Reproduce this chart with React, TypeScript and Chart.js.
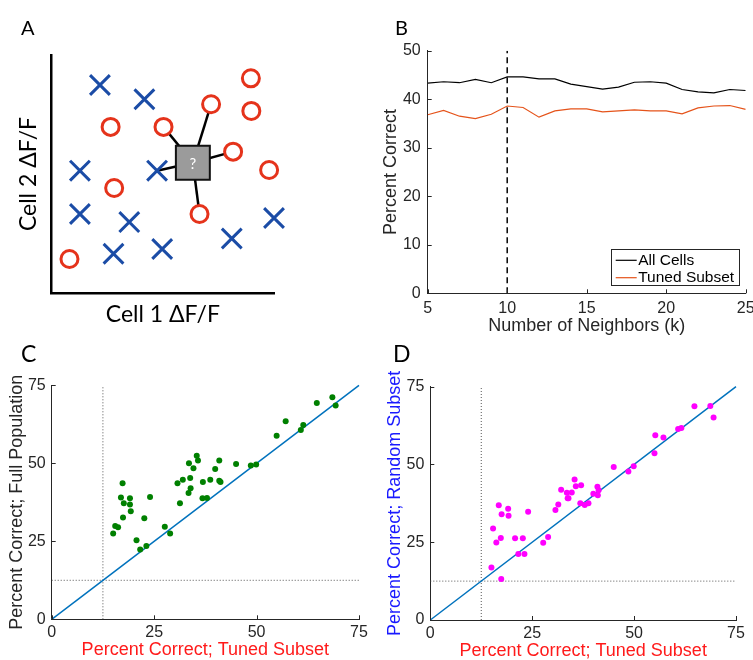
import React, { useEffect, useRef } from 'react';
import { Chart, registerables } from 'chart.js';

Chart.register(...registerables);

// ---------- Panel A (schematic) ----------
const aCrossX = [21.7, 41.7, 12.7, 47.4, 12.7, 34.9, 27.8, 49.7, 81.0, 100];
const aCrossY = [87.4, 81.4, 51.4, 51.4, 33.2, 29.8, 16.5, 18.5, 22.9, 31.5];
const aCircleX = [89.6, 71.7, 89.8, 26.5, 50.3, 81.6, 97.8, 28.1, 66.5, 8.0];
const aCircleY = [90.2, 79.3, 76.5, 69.8, 69.8, 59.4, 51.7, 44.1, 33.2, 14.3];
const aQueryX = 63.5;
const aQueryY = 54.7;
const aNeighborX = [47.4, 50.3, 71.7, 81.6, 66.5];
const aNeighborY = [51.4, 69.8, 79.3, 59.4, 33.2];

// ---------- Panel B ----------
const kValues = [5, 6, 7, 8, 9, 10, 11, 12, 13, 14, 15, 16, 17, 18, 19, 20, 21, 22, 23, 24, 25];
const allCells = [43.3, 43.6, 43.4, 44.1, 43.4, 44.6, 44.6, 44.2, 44.2, 43.1, 42.6, 42.1, 42.5, 43.5, 43.6, 43.3, 42.0, 41.5, 41.3, 42.0, 41.8];
const tunedSubset = [36.8, 37.7, 36.5, 36.0, 36.9, 38.6, 38.3, 36.3, 37.6, 38.0, 38.0, 37.4, 37.6, 37.8, 37.6, 37.6, 37.0, 38.2, 38.6, 38.7, 37.9];
const chosenK = 10;

// ---------- Panel C ----------
const cTuned = [15.0, 15.5, 16.2, 16.9, 17.3, 17.6, 17.4, 19.1, 19.1, 19.3, 20.7, 21.6, 22.6, 23.1, 24.0, 27.6, 28.9, 30.7, 31.3, 32.0, 33.4, 33.5, 33.8, 33.9, 34.6, 35.4, 35.7, 36.8, 36.9, 37.9, 38.7, 39.9, 40.9, 40.9, 41.2, 45.0, 48.6, 49.9, 54.9, 57.1, 60.8, 61.4, 64.7, 68.5, 69.3];
const cFull = [27.5, 29.9, 29.5, 39.0, 43.6, 37.2, 32.6, 38.8, 36.8, 34.6, 25.3, 22.4, 32.4, 23.5, 39.2, 29.7, 27.5, 43.6, 37.2, 44.7, 40.5, 50.0, 45.3, 42.0, 48.4, 52.4, 50.9, 38.8, 44.0, 38.9, 44.7, 48.2, 50.9, 44.4, 44.0, 49.8, 49.3, 49.6, 58.8, 63.5, 60.7, 62.3, 69.3, 71.2, 68.5];

// ---------- Panel D ----------
const dTuned = [15.0, 15.4, 16.2, 16.8, 17.3, 17.5, 17.4, 19.1, 19.2, 20.8, 21.6, 22.7, 23.1, 24.0, 27.7, 28.9, 30.7, 31.4, 32.1, 33.5, 33.7, 33.9, 34.7, 35.4, 35.7, 36.8, 37.0, 37.9, 38.8, 40.0, 41.0, 41.1, 41.3, 45.0, 48.6, 49.9, 55.2, 55.0, 57.2, 60.8, 61.6, 64.8, 68.7, 69.5];
const dRandom = [16.9, 29.4, 24.9, 36.9, 26.4, 34.0, 13.2, 35.8, 33.5, 26.3, 21.2, 26.3, 21.2, 34.8, 24.8, 26.7, 35.4, 37.1, 41.9, 40.9, 39.1, 39.1, 41.0, 45.2, 43.0, 37.5, 43.3, 37.0, 37.5, 40.6, 42.8, 40.1, 41.7, 49.2, 47.7, 49.4, 59.4, 53.6, 58.7, 61.4, 61.7, 68.7, 68.8, 65.1];

const chanceLevel = 12.5;
const compareMax = 75;

const FONT = "'Liberation Sans', Arial, Helvetica, sans-serif";
const GILL = "Lato, 'Open Sans', sans-serif";
const INK = '#262626';

const pts = (xs: number[], ys: number[]) => xs.map((x, i) => ({ x, y: ys[i] }));

const fixSize = (w?: number, h?: number) => (s: any) => {
  if (w !== undefined) s.width = w;
  if (h !== undefined) s.height = h;
  s.paddingLeft = 0;
  s.paddingRight = 0;
  s.paddingTop = 0;
  s.paddingBottom = 0;
};

const innerTicks = {
  id: 'innerTicks',
  afterDraw(chart: any, _a: any, opts: any) {
    const { ctx, chartArea } = chart;
    const len = opts.len || 4;
    const xs = chart.scales.x;
    const ys = chart.scales.y;
    ctx.save();
    ctx.strokeStyle = INK;
    ctx.lineWidth = 1;
    ctx.beginPath();
    xs.ticks.forEach((t: any) => {
      const px = Math.round(xs.getPixelForValue(t.value)) + 0.5;
      ctx.moveTo(px, chartArea.bottom);
      ctx.lineTo(px, chartArea.bottom - len);
    });
    ys.ticks.forEach((t: any) => {
      const py = Math.round(ys.getPixelForValue(t.value)) + 0.5;
      ctx.moveTo(chartArea.left, py);
      ctx.lineTo(chartArea.left + len, py);
    });
    ctx.stroke();
    ctx.restore();
  },
};

const queryMark = {
  id: 'queryMark',
  afterDatasetsDraw(chart: any) {
    const idx = chart.data.datasets.findIndex((d: any) => d.label === 'query');
    if (idx < 0) return;
    const el = chart.getDatasetMeta(idx).data[0];
    const { ctx } = chart;
    ctx.save();
    ctx.fillStyle = '#ffffff';
    ctx.font = `15px ${GILL}`;
    ctx.textAlign = 'center';
    ctx.textBaseline = 'middle';
    ctx.fillText('?', el.x, el.y + 1);
    ctx.restore();
  },
};

const boxLegend = {
  id: 'boxLegend',
  afterDraw(chart: any, _a: any, opts: any) {
    const { ctx, chartArea } = chart;
    const items = chart.data.datasets.filter((d: any) => d.label && !d.label.startsWith('_'));
    const w = opts.width;
    const h = opts.height;
    const x = chartArea.right - opts.right - w;
    const y = chartArea.bottom - opts.bottom - h;
    ctx.save();
    ctx.fillStyle = '#ffffff';
    ctx.fillRect(x, y, w, h);
    ctx.strokeStyle = INK;
    ctx.lineWidth = 1;
    ctx.strokeRect(Math.round(x) + 0.5, Math.round(y) + 0.5, Math.round(w), Math.round(h));
    ctx.font = `${opts.fontSize}px ${FONT}`;
    ctx.textBaseline = 'middle';
    items.forEach((d: any, i: number) => {
      const ry = y + opts.firstRow + i * opts.rowGap;
      ctx.strokeStyle = d.borderColor;
      ctx.lineWidth = 1.2;
      ctx.beginPath();
      ctx.moveTo(x + 5, ry);
      ctx.lineTo(x + 26, ry);
      ctx.stroke();
      ctx.fillStyle = '#000';
      ctx.fillText(d.label, x + 27.5, ry);
    });
    ctx.restore();
  },
};

const configA = () => ({
  type: 'scatter',
  data: {
    datasets: [
      {
        label: 'query',
        data: [{ x: aQueryX, y: aQueryY }],
        pointStyle: 'rect',
        pointRadius: 24,
        backgroundColor: '#9b9b9b',
        borderColor: '#111111',
        borderWidth: 2,
        order: 0,
        clip: false,
      },
      {
        label: 'cross',
        data: pts(aCrossX, aCrossY),
        pointStyle: 'crossRot',
        pointRadius: 14,
        borderColor: '#1b4ca6',
        borderWidth: 3,
        order: 1,
        clip: false,
      },
      {
        label: 'circle',
        data: pts(aCircleX, aCircleY),
        pointStyle: 'circle',
        pointRadius: 8.5,
        borderColor: '#e5331b',
        backgroundColor: '#ffffff',
        borderWidth: 3,
        order: 1,
        clip: false,
      },
      ...aNeighborX.map((x, i) => ({
        label: 'link' + i,
        data: [
          { x: aQueryX, y: aQueryY },
          { x, y: aNeighborY[i] },
        ],
        showLine: true,
        pointRadius: 0,
        borderColor: '#000000',
        borderWidth: 2.5,
        order: 2,
        clip: false,
      })),
    ],
  },
  options: {
    animation: false,
    responsive: false,
    events: [],
    layout: { padding: { left: 0, top: 55, right: 18.3, bottom: 4 } },
    plugins: { legend: { display: false }, tooltip: { enabled: false } },
    scales: {
      x: {
        min: 0,
        max: 100,
        grid: { display: false, drawTicks: false },
        ticks: { display: false },
        border: { display: true, color: '#000', width: 2.5 },
        title: { display: true, text: 'Cell 1 ΔF/F', color: '#000', font: { family: GILL, size: 23, lineHeight: 1 }, padding: { top: 0, bottom: 0 } },
        afterFit: fixSize(undefined, 33),
      },
      y: {
        min: 0,
        max: 100,
        grid: { display: false, drawTicks: false },
        ticks: { display: false },
        border: { display: true, color: '#000', width: 2.5 },
        title: { display: true, text: 'Cell 2 ΔF/F', color: '#000', font: { family: GILL, size: 23, lineHeight: 1 }, padding: { top: 17.5, bottom: 0 } },
        afterFit: fixSize(51.7, undefined),
      },
    },
  },
  plugins: [queryMark],
});

const configB = () => ({
  type: 'scatter',
  data: {
    datasets: [
      {
        label: 'All Cells',
        data: pts(kValues, allCells),
        showLine: true,
        pointRadius: 0,
        borderColor: '#000000',
        borderWidth: 1.2,
      },
      {
        label: 'Tuned Subset',
        data: pts(kValues, tunedSubset),
        showLine: true,
        pointRadius: 0,
        borderColor: '#e5531a',
        borderWidth: 1.2,
      },
      {
        label: '_k',
        data: [
          { x: chosenK, y: 0 },
          { x: chosenK, y: 50 },
        ],
        showLine: true,
        pointRadius: 0,
        borderColor: '#000000',
        borderWidth: 1.5,
        borderDash: [6, 4],
      },
    ],
  },
  options: {
    animation: false,
    responsive: false,
    events: [],
    layout: { padding: { left: 0, top: 30.7, right: 7.3, bottom: 4.5 } },
    plugins: {
      legend: { display: false },
      tooltip: { enabled: false },
      innerTicks: { len: 4 },
      boxLegend: { width: 127.6, height: 35.7, right: 7.4, bottom: 8.3, fontSize: 15.5, firstRow: 11, rowGap: 17.4 },
    },
    scales: {
      x: {
        type: 'linear',
        min: 5,
        max: 25,
        grid: { display: false, drawTicks: false },
        ticks: { stepSize: 5, color: INK, font: { family: FONT, size: 16 }, padding: 6 },
        border: { display: true, color: INK, width: 1 },
        title: { display: true, text: 'Number of Neighbors (k)', color: INK, font: { family: FONT, size: 18, lineHeight: 1 }, padding: { top: 0, bottom: 0 } },
        afterFit: fixSize(undefined, 42.2),
      },
      y: {
        min: 0,
        max: 50,
        grid: { display: false, drawTicks: false },
        ticks: { stepSize: 10, color: INK, font: { family: FONT, size: 16 }, padding: 7 },
        border: { display: true, color: INK, width: 1 },
        title: { display: true, text: 'Percent Correct', color: INK, font: { family: FONT, size: 18, lineHeight: 1 }, padding: { top: 11.8, bottom: 0 } },
        afterFit: fixSize(57.7, undefined),
      },
    },
  },
  plugins: [innerTicks, boxLegend],
});

const makeCompare = (
  xs: number[],
  ys: number[],
  color: string,
  yTitle: string,
  yTitleColor: string,
  g: { top: number; bottom: number; yWidth: number; xHeight: number; yTitlePad: number }
) => () => ({
  type: 'scatter',
  data: {
    datasets: [
      {
        label: 'points',
        data: pts(xs, ys),
        pointStyle: 'circle',
        pointRadius: 3,
        backgroundColor: color,
        borderColor: color,
        borderWidth: 0,
        order: 0,
      },
      {
        label: 'unity',
        data: [
          { x: 0, y: 0 },
          { x: compareMax, y: compareMax },
        ],
        showLine: true,
        pointRadius: 0,
        borderColor: '#0072bd',
        borderWidth: 1.5,
        order: 1,
        clip: false,
      },
      {
        label: 'chanceX',
        data: [
          { x: chanceLevel, y: 0 },
          { x: chanceLevel, y: compareMax },
        ],
        showLine: true,
        pointRadius: 0,
        borderColor: '#555555',
        borderWidth: 1,
        borderDash: [1, 2],
        order: 2,
      },
      {
        label: 'chanceY',
        data: [
          { x: 0, y: chanceLevel },
          { x: compareMax, y: chanceLevel },
        ],
        showLine: true,
        pointRadius: 0,
        borderColor: '#555555',
        borderWidth: 1,
        borderDash: [1, 2],
        order: 2,
      },
    ],
  },
  options: {
    animation: false,
    responsive: false,
    events: [],
    layout: { padding: { left: 0, top: g.top, right: 17, bottom: g.bottom } },
    plugins: { legend: { display: false }, tooltip: { enabled: false }, innerTicks: { len: 4 } },
    scales: {
      x: {
        type: 'linear',
        min: 0,
        max: compareMax,
        grid: { display: false, drawTicks: false },
        ticks: { stepSize: 25, color: INK, font: { family: FONT, size: 16 }, padding: 4 },
        border: { display: true, color: INK, width: 1 },
        title: { display: true, text: 'Percent Correct; Tuned Subset', color: '#ff1a1a', font: { family: FONT, size: 18, lineHeight: 1 }, padding: { top: 0, bottom: 0 } },
        afterFit: fixSize(undefined, g.xHeight),
      },
      y: {
        min: 0,
        max: compareMax,
        grid: { display: false, drawTicks: false },
        ticks: { stepSize: 25, color: INK, font: { family: FONT, size: 16 }, padding: 6 },
        border: { display: true, color: INK, width: 1 },
        title: { display: true, text: yTitle, color: yTitleColor, font: { family: FONT, size: 18, lineHeight: 1 }, padding: { top: g.yTitlePad, bottom: 0 } },
        afterFit: fixSize(g.yWidth, undefined),
      },
    },
  },
  plugins: [innerTicks],
});

const configC = makeCompare(cTuned, cFull, '#008000', 'Percent Correct; Full Population', INK, {
  top: 65.3,
  bottom: 0.5,
  yWidth: 51.7,
  xHeight: 40.2,
  yTitlePad: 7.7,
});

const configD = makeCompare(dTuned, dRandom, '#ff00ff', 'Percent Correct; Random Subset', '#1a1aff', {
  top: 66.7,
  bottom: 0,
  yWidth: 54.3,
  xHeight: 40,
  yTitlePad: 10.2,
});

function ChartBox({ left, top, width, height, config }: any) {
  const ref = useRef<HTMLCanvasElement>(null);
  useEffect(() => {
    const chart = new Chart(ref.current as HTMLCanvasElement, config() as any);
    return () => chart.destroy();
  }, []);
  return (
    <div style={{ position: 'absolute', left, top, width, height }}>
      <canvas ref={ref} width={width} height={height} style={{ width, height, display: 'block' }} />
    </div>
  );
}

const letterStyle = (left: number, top: number, size: number): React.CSSProperties => ({
  position: 'absolute',
  left,
  top,
  fontFamily: GILL,
  fontSize: size,
  lineHeight: 1,
  color: '#000',
});

export default function App() {
  return (
    <div
      style={{
        position: 'absolute',
        left: 0,
        top: 0,
        width: 753,
        height: 660,
        overflow: 'hidden',
        background: '#ffffff',
      }}
    >
      <ChartBox left={0} top={0} width={300} height={330} config={configA} />
      <ChartBox left={370} top={20} width={383} height={320} config={configB} />
      <ChartBox left={0} top={320} width={376} height={340} config={configC} />
      <ChartBox left={376} top={320} width={377} height={340} config={configD} />
      <div style={letterStyle(21, 17, 20)}>A</div>
      <div style={letterStyle(395, 17, 20)}>B</div>
      <div style={letterStyle(21, 342, 23)}>C</div>
      <div style={letterStyle(393, 342, 23)}>D</div>
    </div>
  );
}
